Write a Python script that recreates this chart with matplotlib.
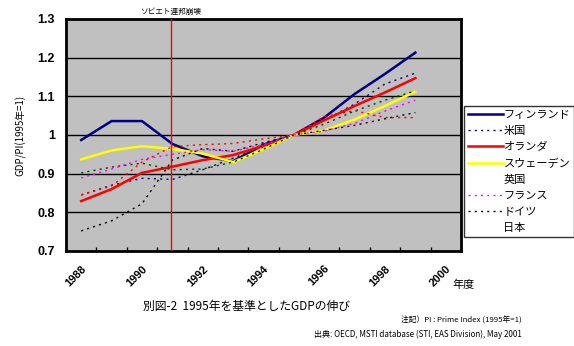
"""
Recreation of figure: GDP growth relative to 1995 (1995 = 1)
"""

import matplotlib
matplotlib.use('Agg')
import matplotlib.pyplot as plt
from matplotlib.lines import Line2D

plt.rcParams['font.family'] = ['Noto Sans CJK JP', 'DejaVu Sans']

years = [1988, 1989, 1990, 1991, 1992, 1993, 1994, 1995, 1996, 1997, 1998, 1999]

finland = [0.987, 1.036, 1.036, 0.977, 0.945, 0.932, 0.975, 1.0, 1.045, 1.106, 1.158, 1.213]
us = [0.845, 0.870, 0.888, 0.885, 0.910, 0.940, 0.970, 1.0, 1.038, 1.080, 1.132, 1.160]
netherlands = [0.829, 0.860, 0.902, 0.918, 0.935, 0.948, 0.972, 1.0, 1.038, 1.075, 1.110, 1.147]
sweden = [0.937, 0.960, 0.971, 0.964, 0.952, 0.930, 0.963, 1.0, 1.012, 1.040, 1.075, 1.112]
uk = [0.902, 0.917, 0.927, 0.910, 0.912, 0.930, 0.963, 1.0, 1.028, 1.062, 1.090, 1.114]
france = [0.889, 0.912, 0.937, 0.950, 0.962, 0.958, 0.975, 1.0, 1.010, 1.030, 1.062, 1.090]
germany = [0.752, 0.778, 0.822, 0.935, 0.965, 0.958, 0.980, 1.0, 1.012, 1.025, 1.042, 1.058]
japan = [0.845, 0.868, 0.930, 0.970, 0.975, 0.978, 0.990, 1.0, 1.048, 1.063, 1.045, 1.045]

country_names = ['フィンランド', '米国', 'オランダ', 'スウェーデン', '英国', 'フランス', 'ドイツ', '日本']
category_years = list(range(1988, 2001))
label_years = [1988, 1990, 1992, 1994, 1996, 1998, 2000]
soviet_collapse = 1990.95

fig = plt.figure(figsize=(5.74, 3.46), dpi=100)
ax = fig.add_axes([0.115, 0.2746, 0.688, 0.6705])
ax.set_facecolor('#C0C0C0')

dot = (0, (1.5, 3))
series = [
    (finland, '#000080', '-', 1.8),
    (us, '#000080', dot, 1.0),
    (netherlands, '#FF0000', '-', 1.8),
    (sweden, '#FFFF00', '-', 1.8),
    (uk, '#004000', dot, 1.0),
    (france, '#FF00FF', dot, 1.0),
    (germany, '#000000', dot, 1.0),
    (japan, '#FF0000', dot, 1.0),
]

for yv in [0.8, 0.9, 1.0, 1.1, 1.2]:
    ax.axhline(yv, color='black', linewidth=1.0, zorder=1)

handles = []
for (vals, color, ls, lw), name in zip(series, country_names):
    ax.plot(years, vals, color=color, linestyle=ls, linewidth=lw, zorder=3)
    # the original legend shows no sample for 英国 and 日本
    vis = name not in ('英国', '日本')
    handles.append(Line2D([], [], color=color, linestyle=ls, linewidth=lw,
                          alpha=1.0 if vis else 0.0))

ax.axvline(soviet_collapse, color='#FF0000', linewidth=1.0, zorder=4)
ax.text(soviet_collapse, 1.318, 'ソビエト連邦崩壊', ha='center', va='center',
        fontsize=5.5, clip_on=False)

ax.set_xlim(category_years[0] - 0.5, category_years[-1] + 0.5)
ax.set_ylim(0.7, 1.3)

# tick marks at category boundaries, labels at category centres
ax.set_xticks([y - 0.5 for y in category_years] + [category_years[-1] + 0.5])
ax.set_xticklabels([])
ax.tick_params(axis='x', which='major', direction='in', length=3, width=1, color='black')
ax.set_xticks(label_years, minor=True)
ax.set_xticklabels([str(y) for y in label_years], minor=True, rotation=45,
                   ha='right', va='top', rotation_mode='anchor',
                   fontsize=8, fontweight='bold', family='Liberation Sans')
ax.tick_params(axis='x', which='minor', length=0, pad=9)

ax.set_yticks([0.7, 0.8, 0.9, 1.0, 1.1, 1.2, 1.3])
ax.set_yticklabels(['0.7', '0.8', '0.9', '1', '1.1', '1.2', '1.3'],
                   fontsize=9, fontweight='bold', family='Liberation Sans')
ax.tick_params(axis='y', length=0, pad=8)

for sp in ax.spines.values():
    sp.set_linewidth(2.0)
    sp.set_color('black')

ax.set_ylabel('GDP/PI(1995年=1)', fontsize=7, labelpad=8)

leg = fig.legend(handles, country_names, loc='upper left',
                 bbox_to_anchor=(464 / 574, 1 - 106 / 346), fontsize=8,
                 frameon=True, fancybox=False, handlelength=3.2,
                 handletextpad=0.0, labelspacing=0.55, borderpad=0.35,
                 borderaxespad=0.0)
leg.get_frame().set_edgecolor('black')
leg.get_frame().set_linewidth(1.0)

fig.text(452 / 574, 1 - 285 / 346, '年度', fontsize=8, ha='left', va='center')
fig.text(143 / 574, 1 - 306 / 346, '別図-2  1995年を基準としたGDPの伸び',
         fontsize=8.5, ha='left', va='center')
fig.text(522 / 574, 1 - 321 / 346, '注記）PI : Prime Index (1995年=1)',
         fontsize=5.6, ha='right', va='center')
fig.text(522 / 574, 1 - 334 / 346, '出典: OECD, MSTI database (STI, EAS Division), May 2001',
         fontsize=5.8, ha='right', va='center')

fig.savefig('out.png', dpi=100, facecolor='white')
